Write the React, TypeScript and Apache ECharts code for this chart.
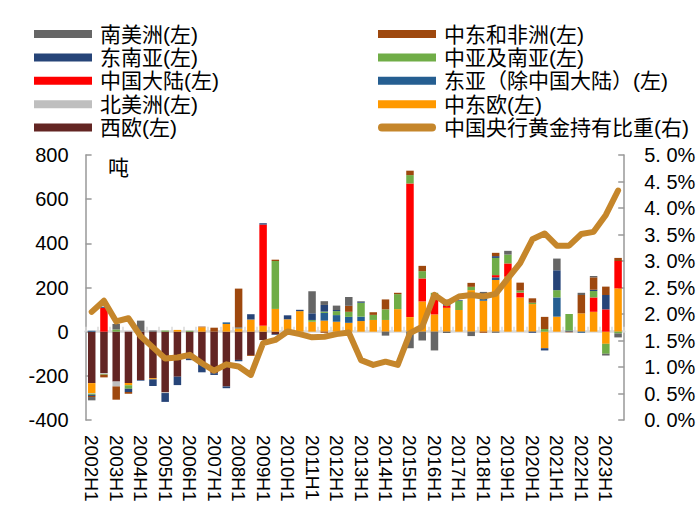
import React, { useEffect, useRef } from "react";
import * as echarts from "echarts";

const categories = [
  "2002H1", "2002H2", "2003H1", "2003H2", "2004H1", "2004H2", "2005H1", "2005H2",
  "2006H1", "2006H2", "2007H1", "2007H2", "2008H1", "2008H2", "2009H1", "2009H2",
  "2010H1", "2010H2", "2011H1", "2011H2", "2012H1", "2012H2", "2013H1", "2013H2",
  "2014H1", "2014H2", "2015H1", "2015H2", "2016H1", "2016H2", "2017H1", "2017H2",
  "2018H1", "2018H2", "2019H1", "2019H2", "2020H1", "2020H2", "2021H1", "2021H2",
  "2022H1", "2022H2", "2023H1", "2023H2",
];

// tonnes, stacked (bottom to top)
const westEurope = [-233, -188, -226, -233, -219, -211, -275, -204, -121, -151, -188, -248, -128, -106, -38, -12, 0, 0, 0, 0, 0, 0, 0, 0, 0, 0, 0, 0, 0, 0, 0, 0, 0, 0, 0, 0, 0, 0, 0, 0, 0, 0, 0, 0];
const centralEastEurope = [-45, 0, 0, -10, 0, -5, 0, 8, 0, 20, 0, 35, 15, 55, 27, 103, 56, 93, 45, 50, 45, 40, 48, 53, 53, 102, 66, 137, 78, 108, 98, 188, 140, 234, 249, 155, 125, -75, 68, 0, 83, 90, -55, 196];
const northAmerica = [-3, -4, -22, 0, 0, 0, -3, 0, 0, 0, 0, 0, 0, 0, 0, 0, 0, 0, 0, 0, 0, 0, 0, 0, 0, 0, 0, 0, 0, 0, 0, 0, 0, 0, 0, 0, 0, 0, 0, 0, 0, 0, 0, 0];
const eastAsiaExChina = [4, 0, 0, 0, 0, 0, 0, 0, 0, 0, 0, 7, 4, 0, 0, 0, 0, 0, 0, 35, 30, 27, 20, 0, 0, 0, 0, 0, 0, 0, 0, 0, 10, 12, 0, 0, 0, 0, 87, 5, -5, 0, 0, 0];
const chinaMainland = [0, 108, 0, 0, 0, 0, 0, 0, 0, 0, 0, 0, 0, 0, 458, 0, 0, 0, 0, 0, 0, 0, 0, 0, 0, 0, 605, 104, 80, 10, 0, 0, 0, 10, 60, 22, 0, 0, 0, 0, 0, 65, 101, 124];
const centralSouthAsia = [-5, -3, 10, -15, 0, 0, 5, 0, 4, 0, 0, 0, 0, 0, 0, 217, 0, 0, 8, 6, 18, 23, 63, 23, 48, 68, 38, 33, 18, 0, 42, 15, 20, 78, 40, 9, 6, 12, 33, 75, 0, 29, -45, -8];
const southeastAsia = [-5, 5, 0, -15, -3, -30, -40, -38, -8, -33, -8, -8, -6, 24, 6, -3, 18, 6, 30, 30, 5, 0, 4, 0, 0, 0, 0, 0, 0, 15, 3, 0, 0, 8, 0, 0, -5, -10, 90, 0, 0, 6, 65, 0];
const middleEastAfrica = [-5, -12, -60, -8, 0, 0, 0, 0, 0, 3, 18, 0, 176, -4, 0, 6, 0, 0, 0, -5, 0, 27, 0, 12, 45, 6, 20, 24, 0, 12, 0, 18, -5, 15, 0, 36, 20, 55, 0, -3, 83, 56, 38, 14];
const southAmerica = [-15, 0, 25, 0, 50, 5, 0, 0, 0, 0, 0, 0, 0, 0, 0, 0, 0, 0, 100, 17, 20, 40, 3, 0, -18, 0, -75, -40, -85, -6, 0, -20, 10, -5, 17, 0, 0, 0, 53, 0, 10, 6, -8, -18];

// percent
const chinaGoldShare = [2.04, 2.25, 1.86, 1.92, 1.58, 1.37, 1.16, 1.18, 1.23, 1.07, 0.93, 1.05, 1.01, 0.85, 1.45, 1.51, 1.67, 1.62, 1.56, 1.57, 1.62, 1.65, 1.13, 1.04, 1.1, 1.04, 1.64, 1.76, 2.36, 2.2, 2.33, 2.36, 2.33, 2.38, 2.67, 2.96, 3.41, 3.52, 3.29, 3.29, 3.51, 3.55, 3.87, 4.33];

const FONT = "'Liberation Sans', 'Noto Sans CJK SC', sans-serif";

const barSeries = [
  { name: "西欧(左)", data: westEurope, color: "#632523" },
  { name: "中东欧(左)", data: centralEastEurope, color: "#FF9900" },
  { name: "北美洲(左)", data: northAmerica, color: "#BFBFBF" },
  { name: "东亚（除中国大陆）(左)", data: eastAsiaExChina, color: "#255E91" },
  { name: "中国大陆(左)", data: chinaMainland, color: "#FF0000" },
  { name: "中亚及南亚(左)", data: centralSouthAsia, color: "#70AD47" },
  { name: "东南亚(左)", data: southeastAsia, color: "#264478" },
  { name: "中东和非洲(左)", data: middleEastAfrica, color: "#9E480E" },
  { name: "南美洲(左)", data: southAmerica, color: "#666666" },
];

const LINE_NAME = "中国央行黄金持有比重(右)";
const LINE_COLOR = "#C5862B";

export default function App() {
  const ref = useRef<HTMLDivElement>(null);
  useEffect(() => {
    document.body.style.margin = "0";
    const chart = echarts.init(ref.current!, null, { renderer: "svg" });
    const legendCommon = {
      orient: "vertical",
      top: 18.5,
      itemWidth: 58,
      itemHeight: 8,
      itemGap: 2.4,
      selectedMode: false,
      icon: "rect",
      textStyle: { fontSize: 21, lineHeight: 21, color: "#000", fontFamily: FONT, padding: [0, 0, 0, 3] },
    };
    const option: any = {
      animation: false,
      backgroundColor: "#fff",
      textStyle: { fontFamily: FONT },
      grid: { left: 85.6, right: 75.8, top: 155, bottom: 94 },
      legend: [
        { ...legendCommon, left: 29, data: ["南美洲(左)", "东南亚(左)", "中国大陆(左)", "北美洲(左)", "西欧(左)"] },
        {
          ...legendCommon,
          left: 373,
          data: [
            "中东和非洲(左)",
            "中亚及南亚(左)",
            "东亚（除中国大陆）(左)",
            "中东欧(左)",
            { name: LINE_NAME, icon: "path://M4,0H54A4,4,0,0,1,54,8H4A4,4,0,0,1,4,0Z" },
          ],
        },
      ],
      xAxis: [
        {
          type: "category",
          data: categories,
          position: "bottom",
          axisLine: { show: false, onZero: false },
          axisTick: { show: false },
          axisLabel: { interval: 1, rotate: -90, fontSize: 19, color: "#000", margin: 15, fontFamily: FONT },
        },
        {
          type: "category",
          data: categories,
          position: "top",
          axisLine: { show: true, onZero: true, lineStyle: { color: "#D9D9D9", width: 2.5 } },
          axisTick: { show: true, interval: 0, length: 5, lineStyle: { color: "#D9D9D9", width: 1.5 } },
          axisLabel: { show: false },
        },
      ],
      yAxis: [
        {
          type: "value",
          min: -400,
          max: 800,
          interval: 200,
          position: "left",
          axisLine: { show: true, lineStyle: { color: "#999", width: 1.5 } },
          axisTick: { show: true, inside: true, length: 6, lineStyle: { color: "#999", width: 1.5 } },
          splitLine: { show: false },
          axisLabel: { fontSize: 20, color: "#000", margin: 17, fontFamily: FONT },
        },
        {
          type: "value",
          min: 0,
          max: 5,
          interval: 0.5,
          position: "right",
          axisLine: { show: true, lineStyle: { color: "#999", width: 1.5 } },
          axisTick: { show: true, inside: true, length: 6, lineStyle: { color: "#999", width: 1.5 } },
          splitLine: { show: false },
          axisLabel: {
            fontSize: 20,
            color: "#000",
            margin: 20,
            fontFamily: FONT,
            formatter: (v: number) => v.toFixed(1).replace(".", ". ") + "%",
          },
        },
      ],
      graphic: [
        { type: "text", left: 108, top: 157, style: { text: "吨", fontSize: 21, fill: "#000", fontFamily: FONT } },
      ],
      series: [
        ...barSeries.map((s) => ({
          name: s.name,
          type: "bar",
          stack: "total",
          xAxisIndex: 0,
          yAxisIndex: 0,
          barWidth: 7.5,
          data: s.data,
          itemStyle: { color: s.color },
        })),
        {
          name: LINE_NAME,
          type: "line",
          xAxisIndex: 0,
          yAxisIndex: 1,
          data: chinaGoldShare,
          symbol: "none",
          z: 10,
          lineStyle: { width: 6, color: LINE_COLOR, cap: "round", join: "round" },
          itemStyle: { color: LINE_COLOR },
        },
      ],
    };
    chart.setOption(option);
    return () => chart.dispose();
  }, []);
  return <div ref={ref} style={{ width: 700, height: 514 }} />;
}
